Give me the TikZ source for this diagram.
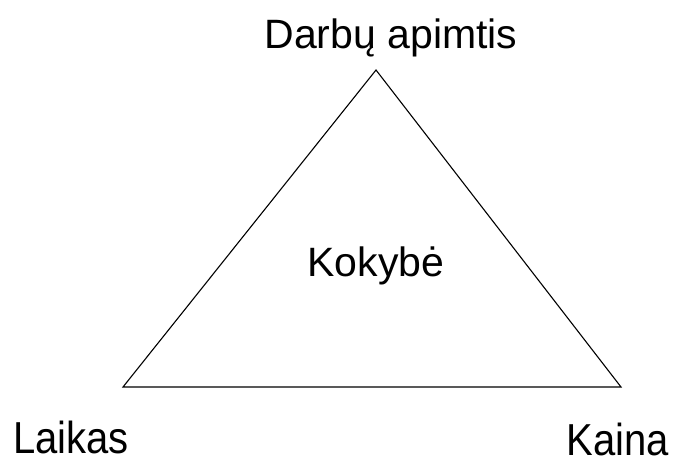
\documentclass[tikz,border=0pt]{standalone}
\usepackage{fontspec}
\setmainfont{Liberation Sans}
\begin{document}
\begin{tikzpicture}[x=1pt,y=-1pt,
  lbl/.style={inner sep=0pt, anchor=base, font=\fontsize{41}{43}\selectfont},
  tall/.style={lbl, font=\fontsize{40}{42}\selectfont, yscale=1.12, transform shape}]
\useasboundingbox (0,0) rectangle (685,464);
\coordinate (top) at (376,70);
\coordinate (left) at (123,387);
\coordinate (right) at (621,387);
\draw[line width=1.1pt, line join=miter] (top) -- (left) -- (right) -- cycle;
\node[lbl] (scope) at (391,48) {Darbų apimtis};
\node[lbl] (quality) at (376,276) {Kokybė};
\node[tall] (time) at (71,453) {Laikas};
\node[tall] (cost) at (618,455) {Kaina};
\end{tikzpicture}
\end{document}
